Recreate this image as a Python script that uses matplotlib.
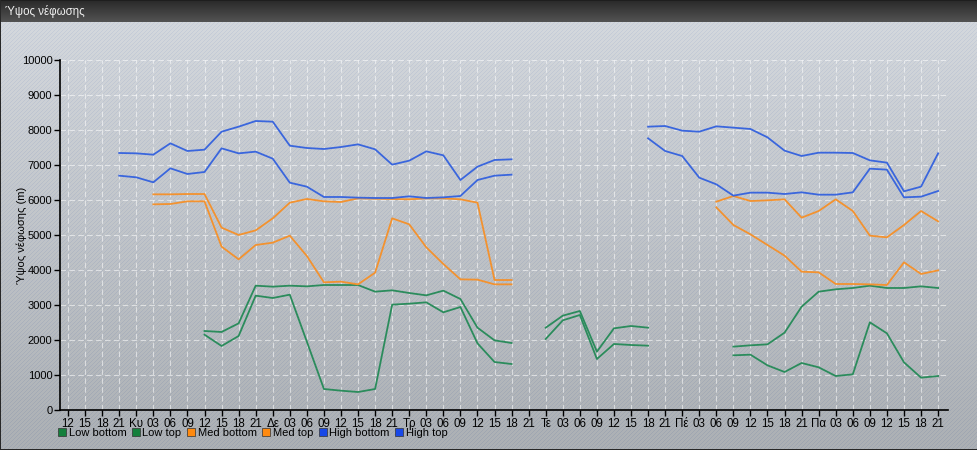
import numpy as np
import matplotlib
matplotlib.use("Agg")
import matplotlib.pyplot as plt
from matplotlib.lines import Line2D

plt.rcParams["font.family"] = ["Liberation Sans", "DejaVu Sans"]

N = None
# x tick labels (every 3 hours)
tick_labels = ["12", "15", "18", "21",
               "Κυ", "03", "06", "09", "12", "15", "18", "21",
               "Δε", "03", "06", "09", "12", "15", "18", "21",
               "Τρ", "03", "06", "09", "12", "15", "18", "21",
               "Τε", "03", "06", "09", "12", "15", "18", "21",
               "Πέ", "03", "06", "09", "12", "15", "18", "21",
               "Πα", "03", "06", "09", "12", "15", "18", "21"]

low_bottom = [N]*8 + [2152, 1829, 2114, 3267, 3200, 3295, 1952, 600, 552, 514, 600, 3010, 3038, 3076, 2791, 2943, 1905, 1371, 1314] \
    + [N] + [2029, 2562, 2714, 1457, 1886, 1857, 1838] + [N]*4 \
    + [1562, 1581, 1276, 1086, 1343, 1219, 971, 1019, 2505, 2190, 1362, 924, 971]
low_top = [N]*8 + [2257, 2229, 2476, 3552, 3524, 3552, 3533, 3571, 3571, 3571, 3381, 3419, 3343, 3276, 3410, 3171, 2352, 1990, 1914] \
    + [N] + [2352, 2695, 2829, 1667, 2333, 2400, 2352] + [N]*4 \
    + [1810, 1848, 1876, 2210, 2952, 3381, 3448, 3486, 3552, 3486, 3486, 3533, 3486]
med_bottom = [N]*5 + [5876, 5886, 5962, 5962, 4667, 4305, 4714, 4781, 4981, 4400, 3648, 3667, 3590, 3924, 5476, 5305, 4648, 4171, 3733, 3724, 3590, 3590] \
    + [N]*11 + [5790, 5286, 5019, 4714, 4410, 3952, 3933, 3600, 3600, 3590, 3571, 4219, 3886, 3990]
med_top = [N]*5 + [6162, 6162, 6171, 6171, 5210, 5000, 5133, 5476, 5924, 6029, 5962, 5943, 6048, 6038, 6029, 6019, 6048, 6048, 6019, 5924, 3714, 3714] \
    + [N]*11 + [5952, 6114, 5971, 5990, 6019, 5495, 5686, 6019, 5686, 4981, 4933, 5286, 5686, 5390]
high_bottom = [N]*3 + [6695, 6648, 6505, 6905, 6743, 6800, 7476, 7333, 7381, 7181, 6495, 6381, 6086, 6086, 6067, 6057, 6057, 6105, 6057, 6076, 6114, 6571, 6695, 6724] \
    + [N]*7 + [7762, 7400, 7257, 6638, 6448, 6124, 6210, 6210, 6171, 6219, 6152, 6152, 6219, 6895, 6867, 6076, 6095, 6257]
high_top = [N]*3 + [7343, 7333, 7295, 7619, 7400, 7438, 7952, 8095, 8257, 8238, 7552, 7486, 7457, 7514, 7590, 7448, 7010, 7124, 7390, 7276, 6571, 6952, 7143, 7162] \
    + [N]*7 + [8095, 8114, 7981, 7952, 8105, 8067, 8029, 7790, 7410, 7257, 7352, 7352, 7343, 7133, 7067, 6248, 6381, 7333]

series_names = ["Low bottom", "Low top", "Med bottom", "Med top", "High bottom", "High top"]
series_vals = [low_bottom, low_top, med_bottom, med_top, high_bottom, high_top]
line_colors = ["#2b8c5c", "#2b8c5c", "#f3922f", "#f3922f", "#3a66dd", "#3a66dd"]
legend_colors = ["#14803c", "#14803c", "#ff8a10", "#ff8a10", "#1848e8", "#1848e8"]

W, H = 978, 450
fig = plt.figure(figsize=(W/100, H/100), dpi=100)

# background: title bar + striped gradient body
rows = np.arange(H)[:, None]
cols = np.arange(W)[None, :]
t = ((rows - 22) / (H - 22)).clip(0, 1)
top_c = np.array([212, 216, 221]); bot_c = np.array([172, 176, 180])
base = top_c[None, None, :] * (1 - t[..., None]) + bot_c[None, None, :] * t[..., None]
base = np.broadcast_to(base, (H, W, 3)).copy()
stripe = ((rows + cols) % 4 == 0)
base[stripe] -= np.array([14, 11, 4])
tb = (np.arange(22) / 21.0)[:, None]
title_c = np.array([42, 42, 42])[None, :] * (1 - tb) + np.array([82, 82, 82])[None, :] * tb
base[:22, :, :] = title_c[:, None, :]
base[0, :] = 30; base[-1, :] = 40; base[:, 0] = 40; base[:, -1] = 40
bg = base / 255.0
bax = fig.add_axes([0, 0, 1, 1], zorder=-10)
bax.imshow(bg, aspect="auto", interpolation="nearest", extent=(0, W, H, 0))
bax.set_axis_off()

fig.text(5/W, 1 - 11.5/H, "Ύψος νέφωσης", color="#f0f0f0", fontsize=8.3, va="center", ha="left")

ax = fig.add_axes([60/W, 40/H, 888/W, 350/H])
ax.patch.set_alpha(0)
x = np.arange(len(tick_labels))
for name, vals, c in zip(series_names, series_vals, line_colors):
    y = np.array([np.nan if v is None else v for v in vals], dtype=float)
    ax.plot(x, y, color=c, lw=1.3, zorder=3)

ax.set_xlim(-0.47, 51.58)
ax.set_ylim(0, 10000)
ax.set_yticks(np.arange(0, 10001, 1000))
ax.set_yticklabels([str(v) for v in range(0, 10001, 1000)], fontsize=8)
ax.set_xticks(x)
ax.set_xticklabels(tick_labels, fontsize=8.3)
ax.tick_params(axis="both", direction="out", length=4, width=1, pad=1.5, colors="black")
ax.grid(True, color="white", alpha=0.55, linestyle=(0, (5, 3)), linewidth=0.8)
for s in ["top", "right"]:
    ax.spines[s].set_visible(False)
for s in ["left", "bottom"]:
    ax.spines[s].set_color("black")
    ax.spines[s].set_linewidth(1.2)
ax.set_ylabel("Ύψος νέφωσης (m)", fontsize=8)
ax.yaxis.set_label_coords(-33/888, 0.5)

handles = [Line2D([], [], marker="s", linestyle="none", markersize=6,
                  markerfacecolor=c, markeredgecolor="#333333", markeredgewidth=0.5)
           for c in legend_colors]
fig.legend(handles, series_names, loc="center left", bbox_to_anchor=(58/W, 1 - 433/H),
           ncol=6, frameon=False, fontsize=8, handlelength=0.75, handletextpad=0.2,
           columnspacing=0.5, borderpad=0, borderaxespad=0)

fig.savefig("out.png", dpi=100)
